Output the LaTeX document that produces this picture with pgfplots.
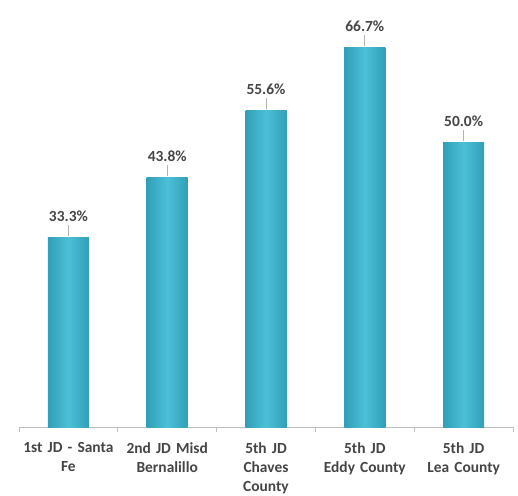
\documentclass[border=0pt]{standalone}
\usepackage{pgfplots}
\pgfplotsset{compat=1.18}
\usepackage{fontspec}
\setmainfont{Carlito}
\definecolor{barmid}{HTML}{4CC0D8}
\definecolor{baredge}{HTML}{319FB8}
\definecolor{labgray}{HTML}{454545}
\definecolor{axgray}{HTML}{BFBFBF}
\begin{document}
\begin{tikzpicture}
  \useasboundingbox (-19bp,-69bp) rectangle (499bp,427bp);
  \begin{axis}[
    at={(0,0)}, anchor=south west,
    scale only axis,
    width=494bp, height=427bp,
    xmin=-0.5, xmax=4.5,
    ymin=0, ymax=75,
    axis x line*=bottom,
    hide y axis,
    x axis line style={draw=axgray, thick},
    xtick={0,1,2,3,4},
    xticklabels={{1st JD - Santa\\Fe},{2nd JD Misd\\Bernalillo},{5th JD\\Chaves\\County},{5th JD\\Eddy County},{5th JD\\Lea County}},
    major x tick style={draw=none},
    minor xtick={-0.5,0.5,1.5,2.5,3.5,4.5},
    minor x tick style={draw=axgray, thick},
    minor tick length=5bp,
    tick align=outside,
    xticklabel style={align=center, text width=100bp, yshift=-8bp, font=\fontsize{15.5}{19}\selectfont\bfseries, text=labgray},
    ybar, bar shift=0pt,
    bar width=41bp,
    nodes near coords={\pgfmathprintnumber[fixed,fixed zerofill,precision=1,assume math mode=true]{\pgfplotspointmeta}\%\\[-1bp]{\color{gray!60}\rule{0.8bp}{11bp}}},
    every node near coord/.append style={align=center, font=\fontsize{15.5}{15.5}\selectfont\bfseries, text=labgray, anchor=south, inner sep=1bp},
    every axis plot/.append style={draw=none, left color=baredge, right color=baredge, middle color=barmid},
  ]
    \addplot coordinates {(0, 33.3)};
    \addplot coordinates {(1, 43.8)};
    \addplot coordinates {(2, 55.6)};
    \addplot coordinates {(3, 66.7)};
    \addplot coordinates {(4, 50.0)};
  \end{axis}
\end{tikzpicture}
\end{document}
